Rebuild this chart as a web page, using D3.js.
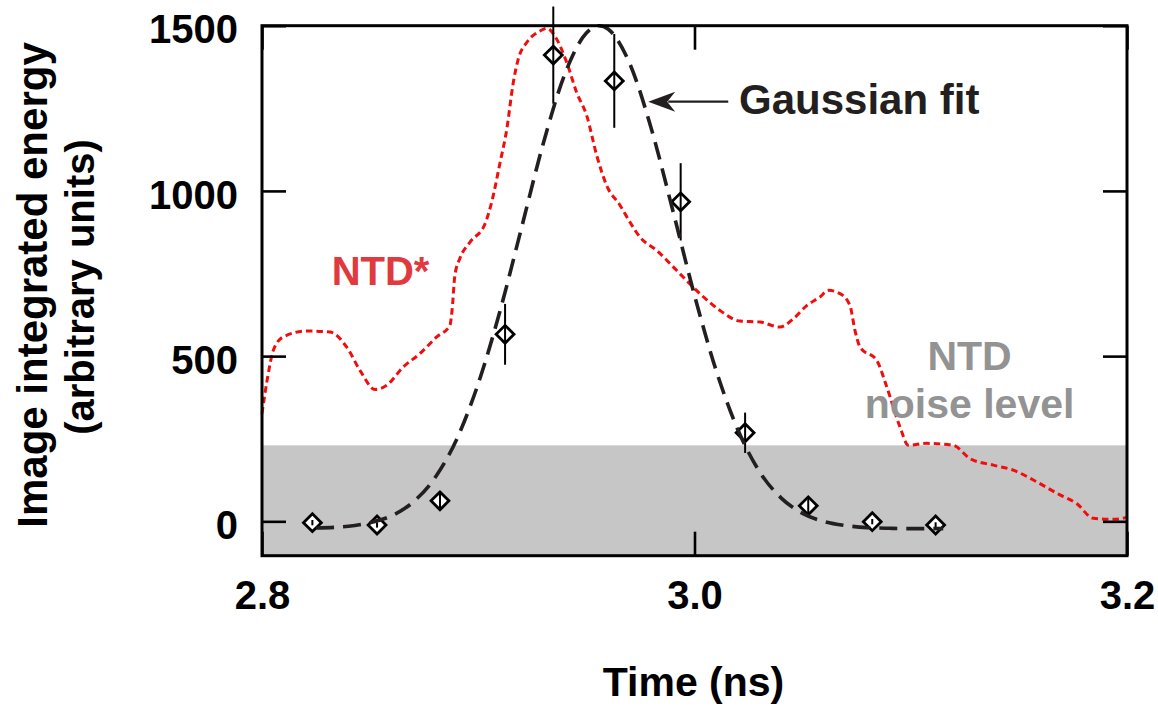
<!DOCTYPE html>
<html><head><meta charset="utf-8">
<script src="https://cdn.jsdelivr.net/npm/d3@7"></script>
<style>
body{margin:0;background:#fff;}
svg text{font-family:"Liberation Sans",Arial,Helvetica,sans-serif;font-weight:bold;}
</style>
</head><body>
<svg id="chart" width="1158" height="707"></svg>
<script>
// ---- data ----
const xTicks = [2.8, 3.0, 3.2];
const yTicks = [0, 500, 1000, 1500];
const noiseLevel = 230;

// NTD* trace (red dotted)
const ntdT = [2.8000,2.8029,2.8052,2.8098,2.8207,2.8314,2.8392,2.8453,2.8523,2.8577,2.8653,2.8731,2.8808,2.8869,2.8879,2.8892,2.8916,2.8962,2.9031,2.9062,2.9101,2.9132,2.9162,2.9185,2.9224,2.9286,2.9317,2.9363,2.9409,2.9455,2.9502,2.9548,2.9594,2.9656,2.9702,2.9748,2.9825,2.9918,3.0025,3.0118,3.0210,3.0303,3.0395,3.0457,3.0519,3.0580,3.0619,3.0673,3.0719,3.0742,3.0766,3.0843,3.0889,3.0950,3.0989,3.1073,3.1197,3.1274,3.1382,3.1474,3.1567,3.1690,3.1767,3.1844,3.1937,3.2000];
const ntdE = [326,447,517,558,576,573,527,457,399,412,467,508,558,593,639,745,797,845,900,966,1086,1187,1328,1399,1449,1484,1492,1459,1389,1298,1227,1107,1016,956,905,860,820,759,689,638,606,603,588,613,653,679,699,689,653,578,527,487,407,286,230,236,230,190,170,155,125,80,54,9,6,12];

// Gaussian fit (black long dashes)
const fitT = [2.825,2.84,2.85,2.86,2.87,2.88,2.89,2.90,2.91,2.92,2.93,2.94,2.95,2.956,2.96,2.97,2.98,2.99,3.00,3.01,3.02,3.03,3.04,3.05,3.06,3.07,3.08,3.09,3.10,3.115];
const fitE = [-20,-15,-4,17,59,132,248,417,635,888,1142,1353,1478,1500,1490,1386,1189,940,684,457,278,151,71,24,-1,-13,-19,-21,-22,-22];

// measured points with error bars
const ptT   = [2.8233,2.8532,2.8823,2.9124,2.9347,2.9629,2.9936,3.0234,3.0526,3.0822,3.1115];
const ptE   = [-4,-11,62,566,1411,1333,967,268,47,-1,-11];
const ptErr = [8,8,25,92,147,142,117,61,25,8,8];

// ---- layout ----
const svg = d3.select("#chart");
const L = 262, R = 1127, T = 25.7, B = 555.7;
const x = d3.scaleLinear().domain([2.8, 3.2]).range([L, R]);
const y = d3.scaleLinear().domain([-104, 1500]).range([B, T]);

// noise band
svg.append("rect")
  .attr("x", x(2.8)).attr("width", x(3.2) - x(2.8))
  .attr("y", y(noiseLevel)).attr("height", y(-104) - y(noiseLevel))
  .attr("fill", "#c6c6c6");

// NTD* red dotted line
const ntd = ntdT.map((t, i) => [t, ntdE[i]]);
svg.append("path").datum(ntd)
  .attr("fill", "none").attr("stroke", "#f20d0d").attr("stroke-width", 3)
  .attr("stroke-dasharray", "6.5,4")
  .attr("d", d3.line().x(d => x(d[0])).y(d => y(d[1])).curve(d3.curveMonotoneX));

// points: diamonds
const pts = ptT.map((t, i) => ({t, e: ptE[i], err: ptErr[i]}));
svg.append("g").selectAll("path").data(pts).join("path")
  .attr("d", d3.symbol(d3.symbolSquare, 160))
  .attr("transform", d => `translate(${x(d.t)},${y(d.e)}) rotate(45)`)
  .attr("fill", "#fff").attr("stroke", "#000").attr("stroke-width", 2.8);

// error bars
svg.append("g").selectAll("line").data(pts).join("line")
  .attr("x1", d => x(d.t)).attr("x2", d => x(d.t))
  .attr("y1", d => y(d.e - d.err)).attr("y2", d => y(d.e + d.err))
  .attr("stroke", "#000").attr("stroke-width", 2);

// Gaussian fit
const fit = fitT.map((t, i) => [t, fitE[i]]);
svg.append("path").datum(fit)
  .attr("fill", "none").attr("stroke", "#231f20").attr("stroke-width", 3.6)
  .attr("stroke-dasharray", "18,9")
  .attr("d", d3.line().x(d => x(d[0])).y(d => y(d[1])).curve(d3.curveMonotoneX));

// frame
svg.append("rect").attr("x", L).attr("y", T).attr("width", R - L).attr("height", B - T)
  .attr("fill", "none").attr("stroke", "#000").attr("stroke-width", 3);

// axes
function style(g, withText){
  g.select(".domain").remove();
  g.selectAll(".tick line").attr("stroke", "#000").attr("stroke-width", 2.6);
  if(!withText) g.selectAll(".tick text").remove();
  else g.selectAll(".tick text").attr("fill", "#000").attr("font-size", 40)
        .attr("font-family", '"Liberation Sans",Arial,Helvetica,sans-serif').attr("font-weight", "bold");
}
svg.append("g").attr("transform", `translate(0,${B})`)
  .call(d3.axisBottom(x).tickValues(xTicks).tickFormat(d3.format(".1f")).tickSizeInner(-24).tickSizeOuter(0).tickPadding(25))
  .call(g => style(g, true));
svg.append("g").attr("transform", `translate(0,${T})`)
  .call(d3.axisTop(x).tickValues(xTicks).tickSizeInner(-24).tickSizeOuter(0))
  .call(g => style(g, false));
svg.append("g").attr("transform", `translate(${L},0)`)
  .call(d3.axisLeft(y).tickValues(yTicks).tickFormat(d3.format("d")).tickSizeInner(-24).tickSizeOuter(0).tickPadding(24))
  .call(g => style(g, true))
  .call(g => g.selectAll(".tick text").attr("dy", "0.43em"));
svg.append("g").attr("transform", `translate(${R},0)`)
  .call(d3.axisRight(y).tickValues(yTicks).tickSizeInner(-24).tickSizeOuter(0))
  .call(g => style(g, false));

// annotations
svg.append("text").attr("x", x(2.8322)).attr("y", y(715))
  .attr("font-size", 40).attr("fill", "#e0393e").text("NTD*");

svg.append("text").attr("x", x(3.0206)).attr("y", y(1233))
  .attr("font-size", 42).attr("fill", "#231f20").text("Gaussian fit");

const tipX = x(2.9786), tipY = y(1270);
svg.append("line").attr("x1", tipX + 20).attr("x2", x(3.0156)).attr("y1", tipY).attr("y2", tipY)
  .attr("stroke", "#231f20").attr("stroke-width", 2.2);
svg.append("path")
  .attr("d", `M${tipX},${tipY} L${tipX + 27},${tipY - 10} L${tipX + 19},${tipY} L${tipX + 27},${tipY + 10} Z`)
  .attr("fill", "#231f20");

const gray = svg.append("text").attr("fill", "#939393").attr("font-size", 41).attr("text-anchor", "middle");
gray.append("tspan").attr("x", x(3.1272)).attr("y", y(458)).text("NTD");
gray.append("tspan").attr("x", x(3.1272)).attr("y", y(313)).text("noise level");

// axis titles
svg.append("text").attr("x", 693.5).attr("y", 696).attr("text-anchor", "middle")
  .attr("font-size", 41).attr("fill", "#000").text("Time (ns)");
svg.append("text").attr("transform", "translate(46.7,285) rotate(-90)").attr("text-anchor", "middle")
  .attr("font-size", 42).attr("fill", "#000").text("Image integrated energy");
svg.append("text").attr("transform", "translate(94,287) rotate(-90)").attr("text-anchor", "middle")
  .attr("font-size", 40).attr("fill", "#000").text("(arbitrary units)");
</script>
</body></html>
